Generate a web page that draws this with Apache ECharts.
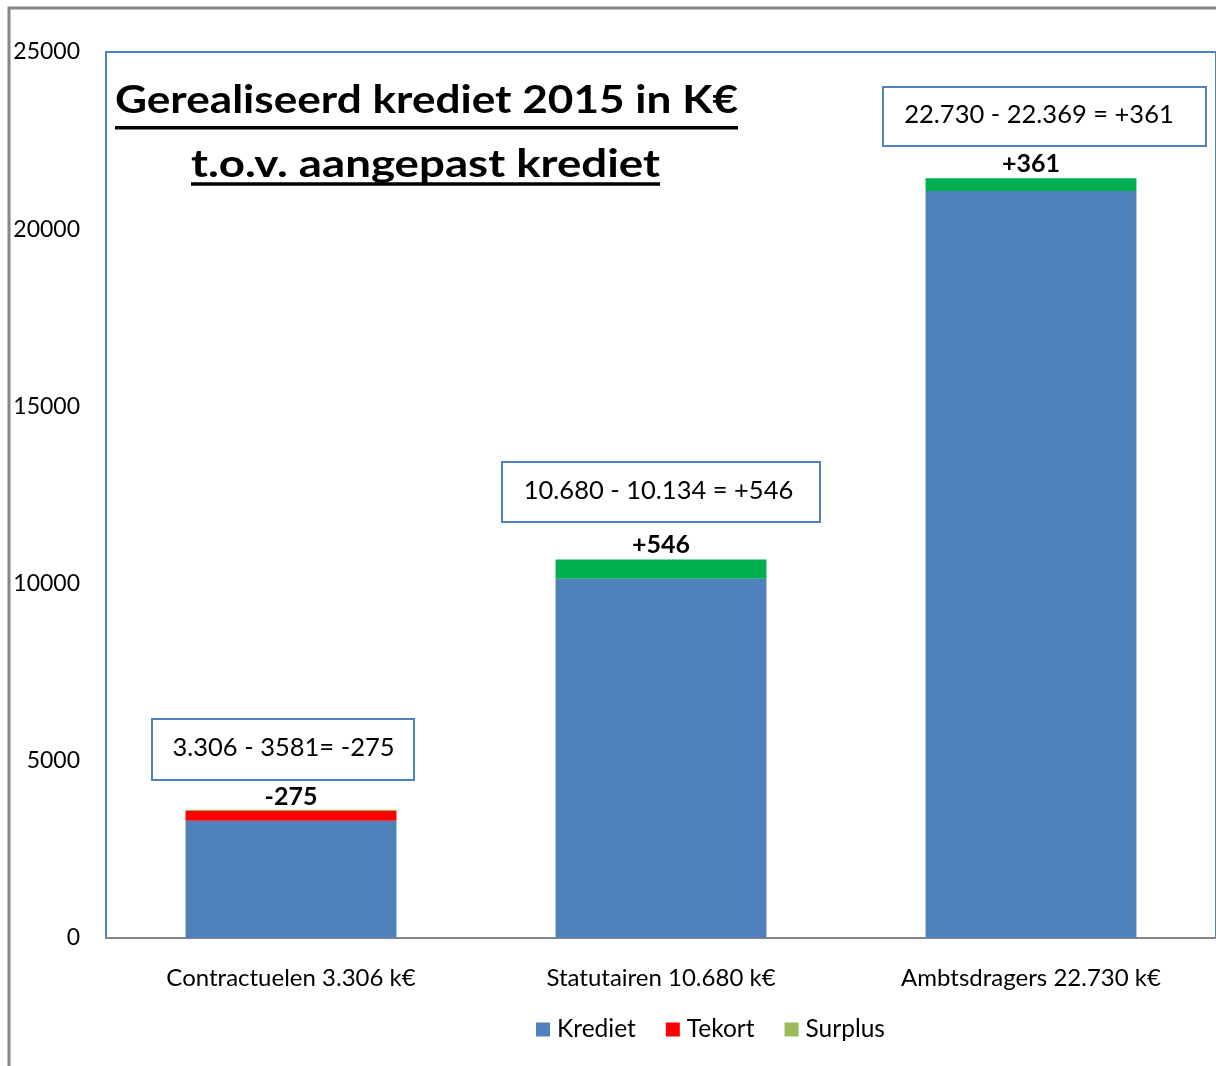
<!DOCTYPE html>
<html>
<head>
<meta charset="utf-8">
<style>
  html, body { margin: 0; padding: 0; background: #ffffff; }
  #chart { width: 1216px; height: 1066px; }
</style>
<script src="https://cdn.jsdelivr.net/npm/echarts@6/dist/echarts.min.js"></script>
</head>
<body>
<div id="chart"></div>
<script>
// Realised credit 2015 per staff group (k€), stacked: credit + deficit / surplus
const categories = ['Contractuelen 3.306 k€', 'Statutairen 10.680 k€', 'Ambtsdragers 22.730 k€'];
const kredietValues = [3306, 10134, 21075];
const tekortValues = [275, 0, 0];
const surplusValues = [35, 546, 361];
const seriesNames = ['Krediet', 'Tekort', 'Surplus'];
const yMin = 0;
const yMax = 25000;
const yInterval = 5000;
const titleLines = ['Gerealiseerd krediet 2015 in K€', 't.o.v. aangepast krediet'];
const noteTexts = ['3.306 - 3581= -275', '10.680 - 10.134 = +546', '22.730 - 22.369 = +361'];

const FONT = 'Lato, "Open Sans", sans-serif';
const BLUE = '#4f81bd';
const RED = '#ff0000';
const OLIVE = '#9bbb59';
const GREEN = '#00b050';
const GREY = '#868686';

const chart = echarts.init(document.getElementById('chart'), null, { renderer: 'canvas' });

// text width helper for the title layout
const measureCtx = document.createElement('canvas').getContext('2d');
function textWidth(str, font) {
  measureCtx.font = font;
  return measureCtx.measureText(str).width;
}

// title: two bold underlined lines, centred over the left half of the plot
const titleFont = 'bold 39px ' + FONT;
const titleLayout = [
  { cx: 426.5, width: 623, midY: 100, underlineY: 126 },
  { cx: 425.5, width: 469, midY: 164, underlineY: 182.3 }
];
const titleGraphics = [];
titleLines.forEach(function (line, i) {
  const L = titleLayout[i];
  const scale = L.width / textWidth(line, titleFont);
  titleGraphics.push({
    type: 'text', x: L.cx, y: L.midY, scaleX: scale,
    style: { text: line, font: titleFont, fill: '#000', align: 'center', verticalAlign: 'middle' }
  });
  titleGraphics.push({
    type: 'rect', shape: { x: L.cx - L.width / 2, y: L.underlineY, width: L.width, height: 3.5 },
    style: { fill: '#000' }
  });
});

// boxed notes with the difference per group
const noteBoxes = [
  { x: 152, y: 719, w: 262, h: 61, cx: 283.5, cy: 748 },
  { x: 502, y: 462, w: 318, h: 60, cx: 658.5, cy: 491 },
  { x: 883, y: 87, w: 323, h: 59, cx: 1039, cy: 115 }
];
const noteGraphics = [];
noteTexts.forEach(function (t, i) {
  const b = noteBoxes[i];
  noteGraphics.push({
    type: 'rect', shape: { x: b.x, y: b.y, width: b.w, height: b.h },
    style: { fill: '#fff', stroke: BLUE, lineWidth: 2 }, z: 10
  });
  noteGraphics.push({
    type: 'text', x: b.cx, y: b.cy, z: 11,
    style: { text: t, font: '25.5px ' + FONT, fill: '#000', align: 'center', verticalAlign: 'middle' }
  });
});

const segLabel = {
  show: true, position: 'top', distance: 2,
  color: '#000', fontFamily: FONT, fontWeight: 'bold', fontSize: 25
};

const option = {
  animation: false,
  backgroundColor: '#ffffff',
  textStyle: { fontFamily: FONT },
  grid: {
    left: 106, top: 52, width: 1113, height: 886,
    show: true, borderColor: BLUE, borderWidth: 2, backgroundColor: 'transparent'
  },
  legend: {
    data: seriesNames,
    left: 531, top: 1012,
    icon: 'rect', itemWidth: 14, itemHeight: 14, itemGap: 30,
    textStyle: { fontFamily: FONT, fontSize: 24.5, color: '#000', padding: [0, 0, 0, 2] }
  },
  xAxis: {
    type: 'category',
    data: categories,
    axisLine: { lineStyle: { color: GREY, width: 2 } },
    axisTick: { show: false },
    axisLabel: { color: '#000', fontFamily: FONT, fontSize: 24, margin: 28 }
  },
  yAxis: {
    type: 'value',
    min: yMin, max: yMax, interval: yInterval,
    axisLine: { show: false },
    axisTick: { show: false },
    splitLine: { show: false },
    axisLabel: {
      color: '#000', fontFamily: FONT, fontSize: 23, margin: 26,
      formatter: function (v) { return String(v); }
    }
  },
  series: [
    {
      name: seriesNames[0], type: 'bar', stack: 'total', barWidth: '57%',
      data: kredietValues, itemStyle: { color: BLUE }
    },
    {
      name: seriesNames[1], type: 'bar', stack: 'total',
      data: tekortValues, itemStyle: { color: RED },
      label: Object.assign({}, segLabel, {
        formatter: function (p) { return p.value > 0 ? '-' + p.value : ''; }
      })
    },
    {
      name: seriesNames[2], type: 'bar', stack: 'total',
      data: surplusValues,
      color: OLIVE,
      itemStyle: {
        color: function (p) { return tekortValues[p.dataIndex] > 0 ? OLIVE : GREEN; }
      },
      label: Object.assign({}, segLabel, {
        formatter: function (p) { return tekortValues[p.dataIndex] > 0 ? '' : '+' + p.value; }
      })
    }
  ],
  graphic: [
    {
      type: 'rect', shape: { x: 9, y: 8, width: 1300, height: 1200 },
      style: { fill: 'none', stroke: GREY, lineWidth: 3 }, z: -1
    }
  ].concat(titleGraphics, noteGraphics)
};

chart.setOption(option);
</script>
</body>
</html>
